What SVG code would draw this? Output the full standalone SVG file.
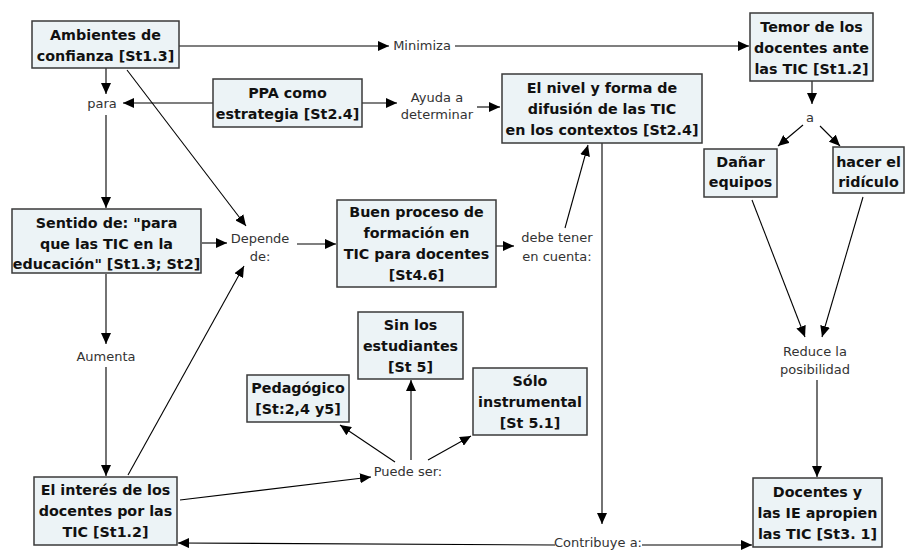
<svg xmlns="http://www.w3.org/2000/svg" width="907" height="550" viewBox="0 0 907 550">
<defs>
<marker id="ah" markerUnits="userSpaceOnUse" markerWidth="12" markerHeight="10" refX="11" refY="5" orient="auto">
<path d="M0,0 L11,5 L0,10 z" fill="#000"/>
</marker>
<style>
.box{fill:#ecf3f6;stroke:#3a3a3a;stroke-width:1.5}
.bt{font-family:"DejaVu Sans","Liberation Sans",sans-serif;font-size:14.3px;font-weight:bold;fill:#111;text-anchor:middle}
.lt{font-family:"DejaVu Sans","Liberation Sans",sans-serif;font-size:13px;fill:#333;text-anchor:middle}
.c line{stroke:#000;stroke-width:1.1;marker-end:url(#ah)}
</style>
</defs>
<rect width="907" height="550" fill="#fff"/>
<g class="c" id="connectors">
<line x1="179" y1="46" x2="389" y2="46"/>
<line x1="455" y1="46" x2="749" y2="46"/>
<line x1="106" y1="68" x2="106" y2="94"/>
<line x1="213" y1="103" x2="123" y2="103"/>
<line x1="106" y1="115" x2="106" y2="208"/>
<line x1="362" y1="103" x2="397" y2="103"/>
<line x1="477" y1="107" x2="500" y2="107"/>
<line x1="127" y1="70" x2="246" y2="226"/>
<line x1="202" y1="243" x2="227" y2="243"/>
<line x1="297" y1="244" x2="336" y2="244"/>
<line x1="128" y1="475" x2="244" y2="266"/>
<line x1="496" y1="246" x2="514" y2="246"/>
<line x1="565" y1="228" x2="588" y2="145"/>
<line x1="602" y1="143" x2="602" y2="524"/>
<line x1="555" y1="545" x2="178" y2="543"/>
<line x1="642" y1="545" x2="752" y2="545"/>
<line x1="812" y1="81" x2="812" y2="104"/>
<line x1="803" y1="125" x2="778" y2="146"/>
<line x1="820" y1="126" x2="840" y2="146"/>
<line x1="752" y1="200" x2="805" y2="337"/>
<line x1="863" y1="197" x2="822" y2="337"/>
<line x1="817" y1="380" x2="817" y2="477"/>
<line x1="106" y1="274" x2="106" y2="344"/>
<line x1="106" y1="367" x2="106" y2="476"/>
<line x1="180" y1="500" x2="371" y2="477"/>
<line x1="395" y1="462" x2="340" y2="425"/>
<line x1="411" y1="460" x2="411" y2="380"/>
<line x1="428" y1="460" x2="471" y2="436"/>
</g>
<g id="l-minimiza"><text class="lt" x="422" y="50">Minimiza</text></g>
<g id="l-para"><text class="lt" x="102" y="108">para</text></g>
<g id="l-ayuda"><text class="lt" x="437" y="102">Ayuda a</text><text class="lt" x="437" y="119">determinar</text></g>
<g id="l-depende"><text class="lt" x="260" y="243">Depende</text><text class="lt" x="260" y="261">de:</text></g>
<g id="l-debe"><text class="lt" x="557" y="242">debe tener</text><text class="lt" x="557" y="261">en cuenta:</text></g>
<g id="l-a"><text class="lt" x="810" y="122">a</text></g>
<g id="l-reduce"><text class="lt" x="815" y="356">Reduce la</text><text class="lt" x="815" y="374">posibilidad</text></g>
<g id="l-aumenta"><text class="lt" x="106" y="361">Aumenta</text></g>
<g id="l-puede"><text class="lt" x="408" y="476">Puede ser:</text></g>
<g id="l-contribuye"><text class="lt" x="598" y="547">Contribuye a:</text></g>
<g id="n-ambientes"><rect class="box" x="32" y="21" width="147" height="47"/><text class="bt" x="105.5" y="40">Ambientes de</text><text class="bt" x="105.5" y="61">confianza [St1.3]</text></g>
<g id="n-temor"><rect class="box" x="750" y="13" width="123" height="68"/><text class="bt" x="811.5" y="32">Temor de los</text><text class="bt" x="811.5" y="53">docentes ante</text><text class="bt" x="811.5" y="74">las TIC [St1.2]</text></g>
<g id="n-ppa"><rect class="box" x="213" y="79" width="149" height="48"/><text class="bt" x="287.5" y="98">PPA como</text><text class="bt" x="287.5" y="119">estrategia [St2.4]</text></g>
<g id="n-nivel"><rect class="box" x="502" y="74" width="200" height="69"/><text class="bt" x="602" y="93">El nivel y forma de</text><text class="bt" x="602" y="114">difusión de las TIC</text><text class="bt" x="602" y="135">en los contextos [St2.4]</text></g>
<g id="n-danar"><rect class="box" x="704" y="149" width="73" height="48"/><text class="bt" x="740.5" y="167">Dañar</text><text class="bt" x="740.5" y="187">equipos</text></g>
<g id="n-hacer"><rect class="box" x="833" y="147" width="71" height="46"/><text class="bt" x="868.5" y="167">hacer el</text><text class="bt" x="868.5" y="187">ridículo</text></g>
<g id="n-sentido"><rect class="box" x="12" y="209" width="189" height="64"/><text class="bt" x="106.5" y="228">Sentido de: "para</text><text class="bt" x="106.5" y="249">que las TIC en la</text><text class="bt" x="106.5" y="269">educación" [St1.3; St2]</text></g>
<g id="n-buen"><rect class="box" x="337" y="200" width="159" height="87"/><text class="bt" x="416.5" y="217">Buen proceso de</text><text class="bt" x="416.5" y="238">formación en</text><text class="bt" x="416.5" y="259">TIC para docentes</text><text class="bt" x="416.5" y="280">[St4.6]</text></g>
<g id="n-sinlos"><rect class="box" x="358" y="312" width="105" height="67"/><text class="bt" x="410.5" y="330">Sin los</text><text class="bt" x="410.5" y="351">estudiantes</text><text class="bt" x="410.5" y="372">[St 5]</text></g>
<g id="n-pedagogico"><rect class="box" x="247" y="375" width="102" height="47"/><text class="bt" x="298" y="393">Pedagógico</text><text class="bt" x="298" y="414">[St:2,4 y5]</text></g>
<g id="n-solo"><rect class="box" x="473" y="368" width="114" height="67"/><text class="bt" x="530" y="386">Sólo</text><text class="bt" x="530" y="407">instrumental</text><text class="bt" x="530" y="428">[St 5.1]</text></g>
<g id="n-interes"><rect class="box" x="34" y="477" width="143" height="68"/><text class="bt" x="105.5" y="495">El interés de los</text><text class="bt" x="105.5" y="516">docentes por las</text><text class="bt" x="105.5" y="537">TIC [St1.2]</text></g>
<g id="n-docentes"><rect class="box" x="753" y="478" width="129" height="69"/><text class="bt" x="817.5" y="497">Docentes y</text><text class="bt" x="817.5" y="518">las IE apropien</text><text class="bt" x="817.5" y="539">las TIC [St3. 1]</text></g>
</svg>
